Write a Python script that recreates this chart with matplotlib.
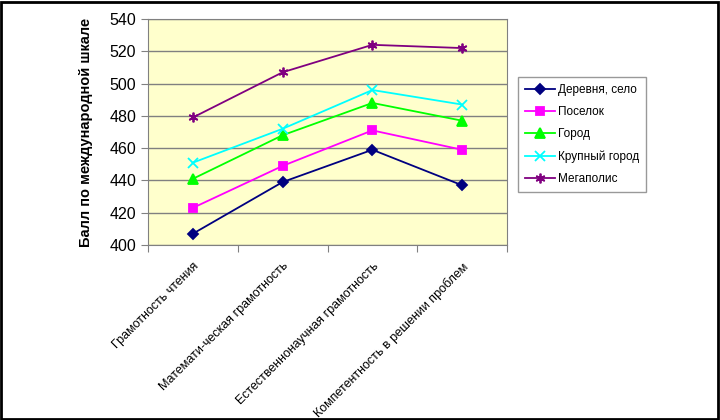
import numpy as np
import matplotlib.pyplot as plt
from matplotlib.patches import Rectangle

plt.rcParams['font.family'] = ['Liberation Sans', 'DejaVu Sans']

categories = ["Грамотность чтения", "Математи-ческая грамотность",
              "Естественнонаучная грамотность", "Компетентность в решении проблем"]
series_names = ["Деревня, село", "Поселок", "Город", "Крупный город", "Мегаполис"]
village = [407, 439, 459, 437]
settlement = [423, 449, 471, 459]
town = [441, 468, 488, 477]
big_city = [451, 472, 496, 487]
megapolis = [479, 507, 524, 522]

series = [village, settlement, town, big_city, megapolis]
colors = ["#000080", "#FF00FF", "#00FF00", "#00FFFF", "#800080"]
markers = ["D", "s", "^", "x", (6, 2, 0)]
msizes = [5, 6, 7, 6.5, 7]

fig = plt.figure(figsize=(7.2, 4.2), dpi=100)
ax = fig.add_axes([148/720, 1-245/420, (507-148)/720, (245-19)/420])
ax.set_facecolor("#FFFFCC")

x = np.arange(len(categories))
for vals, name, c, m, ms in zip(series, series_names, colors, markers, msizes):
    ax.plot(x, vals, color=c, marker=m, markersize=ms, linewidth=1.3,
            markeredgewidth=1.3, label=name)

ax.set_xlim(-0.5, 3.5)
ax.set_ylim(400, 540)
ax.set_yticks(np.arange(400, 541, 20))
ax.yaxis.grid(True, color="#808080", linewidth=1)
ax.set_axisbelow(True)
ax.set_xticks(np.arange(-0.5, 3.6, 1))
ax.set_xticklabels([])
ax.set_xticks(x, minor=True)
ax.set_xticklabels(categories, minor=True, rotation=45, ha="right",
                   rotation_mode="anchor", fontsize=9)
ax.tick_params(axis="x", which="minor", length=0, pad=11)
ax.tick_params(axis="both", which="major", direction="out", length=5,
               color="#808080", labelsize=11.5)
for s in ax.spines.values():
    s.set_color("#808080")

ax.set_ylabel("Балл по международной шкале", fontsize=10.5, fontweight="bold",
              labelpad=12)

leg = ax.legend(loc="upper left", bbox_to_anchor=(518/720, 1-77/420),
                bbox_transform=fig.transFigure, borderaxespad=0, fontsize=8.5,
                frameon=True, fancybox=False, edgecolor="#808080",
                handlelength=2.5, borderpad=0.6, labelspacing=0.85,
                handletextpad=0.3)
leg.get_frame().set_linewidth(1)

fig.patches.append(Rectangle((0.002, 0.003), 0.995, 0.993, transform=fig.transFigure,
                             fill=False, edgecolor="black", linewidth=2))

fig.savefig("out.png", dpi=100)
